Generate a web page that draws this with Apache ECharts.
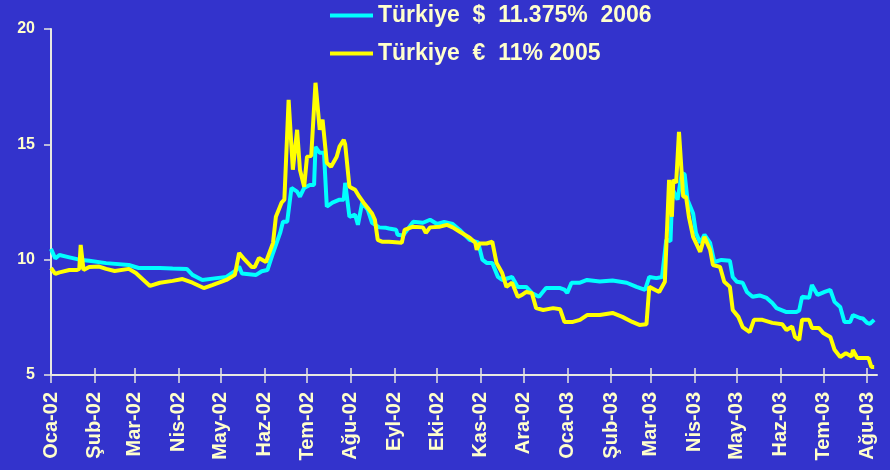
<!DOCTYPE html>
<html>
<head>
<meta charset="utf-8">
<script src="https://cdn.jsdelivr.net/npm/echarts@6/dist/echarts.min.js"></script>
<style>
html,body{margin:0;padding:0;background:#3333CC;}
#chart{width:890px;height:470px;}
</style>
</head>
<body>
<div id="chart"></div>
<script>
const seriesNames = ['Türkiye  $  11.375%  2006', 'Türkiye  €  11% 2005'];

const monthStarts = ['2002-01-01','2002-02-01','2002-03-01','2002-04-01','2002-05-01','2002-06-01','2002-07-01','2002-08-01','2002-09-01','2002-10-01','2002-11-01','2002-12-01','2003-01-01','2003-02-01','2003-03-01','2003-04-01','2003-05-01','2003-06-01','2003-07-01','2003-08-01'];
const monthLabels = ['Oca-02','Şub-02','Mar-02','Nis-02','May-02','Haz-02','Tem-02','Ağu-02','Eyl-02','Eki-02','Kas-02','Ara-02','Oca-03','Şub-03','Mar-03','Nis-03','May-03','Haz-03','Tem-03','Ağu-03'];

const yTicks = [5, 10, 15, 20];

const usdDates = ['2002-01-01','2002-01-04','2002-01-07','2002-01-14','2002-01-21','2002-01-28','2002-02-09','2002-02-25','2002-03-04','2002-03-19','2002-03-28','2002-04-07','2002-04-11','2002-04-18','2002-04-28','2002-05-05','2002-05-12','2002-05-14','2002-05-16','2002-05-26','2002-05-30','2002-06-03','2002-06-07','2002-06-12','2002-06-14','2002-06-17','2002-06-20','2002-06-24','2002-06-26','2002-06-29','2002-07-03','2002-07-06','2002-07-07','2002-07-10','2002-07-13','2002-07-15','2002-07-19','2002-07-24','2002-07-27','2002-07-28','2002-07-31','2002-08-04','2002-08-06','2002-08-09','2002-08-13','2002-08-16','2002-08-21','2002-08-26','2002-08-28','2002-09-02','2002-09-03','2002-09-07','2002-09-14','2002-09-21','2002-09-26','2002-10-01','2002-10-06','2002-10-12','2002-10-17','2002-10-24','2002-10-30','2002-11-02','2002-11-05','2002-11-09','2002-11-13','2002-11-16','2002-11-23','2002-11-27','2002-12-03','2002-12-07','2002-12-12','2002-12-17','2002-12-27','2002-12-30','2003-01-01','2003-01-04','2003-01-10','2003-01-15','2003-01-24','2003-02-02','2003-02-12','2003-02-19','2003-02-25','2003-02-28','2003-03-05','2003-03-09','2003-03-12','2003-03-15','2003-03-16','2003-03-17','2003-03-20','2003-03-23','2003-03-25','2003-03-27','2003-03-31','2003-04-02','2003-04-05','2003-04-08','2003-04-12','2003-04-15','2003-04-20','2003-04-26','2003-04-28','2003-05-01','2003-05-05','2003-05-08','2003-05-12','2003-05-17','2003-05-22','2003-05-26','2003-05-29','2003-06-05','2003-06-12','2003-06-14','2003-06-16','2003-06-21','2003-06-23','2003-06-27','2003-07-02','2003-07-06','2003-07-09','2003-07-13','2003-07-16','2003-07-20','2003-07-22','2003-07-27','2003-07-29','2003-08-01','2003-08-03','2003-08-06'];
const usdValues = [10.47,10.05,10.2,10.1,10.0,9.95,9.85,9.77,9.64,9.64,9.62,9.6,9.34,9.12,9.2,9.25,9.55,9.7,9.4,9.34,9.5,9.55,10.29,11.16,11.64,11.64,13.11,12.95,12.73,13.11,13.24,13.24,14.89,14.63,14.63,12.3,12.47,12.6,12.6,13.33,11.86,11.95,11.51,12.47,12.16,11.6,11.4,11.38,11.35,11.3,11.08,11.05,11.64,11.6,11.73,11.55,11.64,11.55,11.29,10.86,10.75,10.0,9.86,9.86,9.25,9.12,9.25,8.82,8.82,8.56,8.39,8.77,8.77,8.7,8.56,9.0,9.0,9.12,9.05,9.1,9.0,8.82,8.69,9.25,9.2,9.25,10.86,10.8,12.47,13.0,12.6,13.76,13.7,12.6,12.0,11.16,10.73,11.08,10.73,9.9,9.99,9.95,9.25,9.04,9.0,8.6,8.39,8.45,8.34,8.12,7.9,7.73,7.73,7.8,8.39,8.35,8.9,8.47,8.6,8.69,8.17,7.95,7.3,7.3,7.6,7.47,7.45,7.26,7.22,7.39];

const eurDates = ['2002-01-01','2002-01-04','2002-01-07','2002-01-14','2002-01-19','2002-01-21','2002-01-22','2002-01-24','2002-01-28','2002-02-04','2002-02-09','2002-02-15','2002-02-25','2002-03-02','2002-03-12','2002-03-19','2002-03-28','2002-04-04','2002-04-11','2002-04-19','2002-04-25','2002-05-05','2002-05-11','2002-05-14','2002-05-18','2002-05-23','2002-05-25','2002-05-28','2002-06-02','2002-06-07','2002-06-09','2002-06-13','2002-06-15','2002-06-18','2002-06-21','2002-06-24','2002-06-26','2002-06-29','2002-07-01','2002-07-04','2002-07-07','2002-07-10','2002-07-12','2002-07-15','2002-07-18','2002-07-22','2002-07-24','2002-07-27','2002-07-28','2002-07-31','2002-08-04','2002-08-07','2002-08-10','2002-08-14','2002-08-16','2002-08-18','2002-08-20','2002-08-23','2002-08-28','2002-09-06','2002-09-08','2002-09-14','2002-09-21','2002-09-23','2002-09-26','2002-10-03','2002-10-08','2002-10-12','2002-10-17','2002-10-24','2002-10-28','2002-10-29','2002-10-31','2002-11-05','2002-11-09','2002-11-12','2002-11-16','2002-11-19','2002-11-23','2002-11-27','2002-11-30','2002-12-03','2002-12-07','2002-12-10','2002-12-15','2002-12-22','2002-12-27','2002-12-30','2003-01-05','2003-01-10','2003-01-15','2003-01-24','2003-02-02','2003-02-09','2003-02-16','2003-02-21','2003-02-26','2003-02-28','2003-03-07','2003-03-11','2003-03-14','2003-03-16','2003-03-17','2003-03-19','2003-03-21','2003-03-24','2003-03-26','2003-03-28','2003-03-31','2003-04-05','2003-04-08','2003-04-12','2003-04-14','2003-04-19','2003-04-22','2003-04-26','2003-04-28','2003-05-02','2003-05-05','2003-05-10','2003-05-13','2003-05-19','2003-05-26','2003-06-02','2003-06-05','2003-06-09','2003-06-11','2003-06-14','2003-06-16','2003-06-21','2003-06-23','2003-06-28','2003-07-01','2003-07-06','2003-07-09','2003-07-13','2003-07-17','2003-07-21','2003-07-22','2003-07-25','2003-08-02','2003-08-04','2003-08-06'];
const eurValues = [9.64,9.38,9.45,9.55,9.55,9.6,10.64,9.55,9.68,9.7,9.6,9.51,9.6,9.42,8.86,9.0,9.08,9.16,9.0,8.77,8.9,9.12,9.34,10.29,10.0,9.68,9.68,10.07,9.9,10.73,11.86,12.47,12.6,16.93,13.9,15.63,13.9,13.16,14.46,14.5,17.67,15.63,16.07,14.2,14.03,14.46,14.9,15.2,15.0,13.16,13.03,12.73,12.47,12.16,12.0,11.73,10.86,10.78,10.78,10.73,11.29,11.43,11.4,11.16,11.4,11.43,11.51,11.4,11.21,10.95,10.73,10.43,10.7,10.7,10.78,9.86,9.42,8.82,9.0,8.39,8.47,8.6,8.55,7.9,7.82,7.9,7.85,7.3,7.3,7.39,7.6,7.6,7.69,7.52,7.3,7.17,7.2,8.82,8.6,9.04,13.46,11.86,13.46,13.33,15.54,12.73,12.73,11.86,10.99,10.34,10.99,10.43,9.77,9.69,9.04,8.82,7.82,7.52,7.08,6.86,7.39,7.39,7.26,7.2,6.95,7.1,6.65,6.52,7.39,7.39,7.04,7.04,6.82,6.65,6.09,5.78,5.95,5.8,6.09,5.74,5.74,5.35,5.35];

// Parse 'YYYY-MM-DD' as a UTC day timestamp
const parse = s => { const p = s.split('-').map(Number); return Date.UTC(p[0], p[1] - 1, p[2]); };
const monthTs = monthStarts.map(parse);
const xMin = parse('2002-01-01');
const xMax = parse('2003-08-08');

const textColor = '#FFFFCC';
const axisColor = '#E8E8E0';
const fontFamily = '"Liberation Sans", Arial, sans-serif';

const chart = echarts.init(document.getElementById('chart'), null, {renderer: 'canvas'});

const baseX = {
  type: 'value', min: xMin, max: xMax, position: 'bottom',
  splitLine: {show: false}
};

chart.setOption({
  backgroundColor: '#3333CC',
  animation: false,
  grid: {left: 51, right: 13, top: 29, bottom: 95, outerBoundsMode: 'none'},
  legend: {
    orient: 'vertical', left: 330, top: 4, padding: 0,
    itemWidth: 43, itemHeight: 4, itemGap: 15,
    icon: 'rect',
    textStyle: {color: textColor, fontFamily, fontWeight: 'bold', fontSize: 23},
    data: seriesNames
  },
  xAxis: [
    Object.assign({}, baseX, {
      axisLine: {show: true, lineStyle: {color: axisColor, width: 2}},
      axisTick: {show: true, length: 8, customValues: monthTs, lineStyle: {color: axisColor, width: 1.5}},
      axisLabel: {
        show: true, rotate: 90, margin: 17, customValues: monthTs,
        color: textColor, fontFamily, fontWeight: 'bold', fontSize: 20,
        formatter: v => { const i = monthTs.indexOf(v); return i >= 0 ? monthLabels[i] : ''; }
      }
    }),
    Object.assign({}, baseX, {
      axisLine: {show: false},
      axisTick: {show: true, inside: true, length: 7, customValues: monthTs, lineStyle: {color: axisColor, width: 1.5}},
      axisLabel: {show: false}
    })
  ],
  yAxis: {
    type: 'value', min: 5, max: 20, interval: 5,
    splitLine: {show: false},
    axisLine: {show: true, lineStyle: {color: axisColor, width: 2}},
    axisTick: {show: true, length: 7, lineStyle: {color: axisColor, width: 1.5}},
    axisLabel: {
      margin: 16, color: textColor, fontFamily, fontWeight: 'bold', fontSize: 16,
      formatter: v => yTicks.includes(v) ? String(v) : ''
    }
  },
  series: [
    {
      name: seriesNames[0], type: 'line', showSymbol: false, xAxisIndex: 0,
      color: '#00FFFF', lineStyle: {color: '#00FFFF', width: 4},
      data: usdDates.map((d, i) => [parse(d), usdValues[i]])
    },
    {
      name: seriesNames[1], type: 'line', showSymbol: false, xAxisIndex: 0,
      color: '#FFFF00', lineStyle: {color: '#FFFF00', width: 4},
      data: eurDates.map((d, i) => [parse(d), eurValues[i]])
    }
  ]
});
</script>
</body>
</html>
